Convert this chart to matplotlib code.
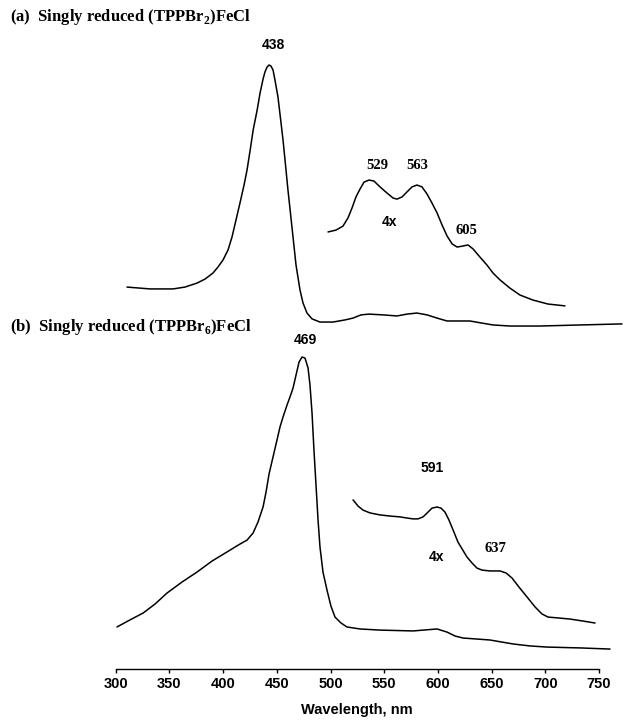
import matplotlib
matplotlib.use("Agg")
import matplotlib.pyplot as plt

# espectro (a): longitudes de onda (nm) y absorbancia relativa
wl_a = [310.5, 331.9, 353.4, 364.5, 375.7, 383.1, 390.6, 395.3, 399.9, 404.6, 408.3,
        412.0, 415.7, 419.5, 422.3, 425.2, 428.0, 431.7, 434.4, 437.2, 439.0, 440.9,
        442.7, 444.6, 446.5, 448.3, 451.1, 453.4, 455.8, 458.1, 460.4, 462.8, 465.1,
        467.9, 471.6, 474.4, 478.1, 482.8, 490.2, 502.3, 513.5, 521.0, 528.4, 535.9,
        548.9, 561.9, 571.2, 580.5, 589.9, 599.2, 608.5, 618.7, 629.9, 641.1, 651.3,
        667.1, 695.1, 732.3, 771.4]
abs_a = [0.162, 0.155, 0.155, 0.162, 0.177, 0.192, 0.215, 0.238, 0.264, 0.302, 0.351,
         0.415, 0.479, 0.547, 0.604, 0.679, 0.755, 0.830, 0.894, 0.947, 0.974, 0.992,
         1.000, 0.996, 0.981, 0.943, 0.879, 0.800, 0.717, 0.623, 0.528, 0.438, 0.351,
         0.245, 0.151, 0.102, 0.064, 0.042, 0.030, 0.030, 0.038, 0.045, 0.057, 0.060,
         0.057, 0.053, 0.060, 0.064, 0.057, 0.045, 0.034, 0.034, 0.034, 0.026, 0.019,
         0.015, 0.015, 0.019, 0.023]

# espectro (a) ampliado 4x
wl_a4 = [497.7, 505.1, 511.6, 516.3, 520.0, 523.7, 527.5, 531.2, 535.9, 540.5, 546.1,
         552.6, 558.2, 561.9, 566.6, 571.2, 575.9, 580.5, 585.2, 589.9, 594.5, 599.2,
         603.9, 608.5, 613.2, 617.9, 623.4, 628.0, 632.7, 639.2, 645.7, 651.3, 657.8,
         667.1, 676.4, 688.5, 702.5, 718.3]
abs_a4 = [0.370, 0.377, 0.392, 0.423, 0.460, 0.502, 0.532, 0.558, 0.566, 0.562, 0.540,
          0.517, 0.498, 0.494, 0.502, 0.521, 0.540, 0.547, 0.540, 0.513, 0.479, 0.442,
          0.396, 0.355, 0.325, 0.313, 0.317, 0.321, 0.306, 0.275, 0.245, 0.215, 0.189,
          0.158, 0.132, 0.113, 0.098, 0.091]

# espectro (b)
wl_b = [301.2, 313.3, 325.4, 336.6, 347.8, 361.8, 375.7, 389.7, 403.6, 415.7, 422.3,
        427.9, 432.5, 437.2, 440.0, 442.8, 446.5, 450.2, 453.0, 455.8, 459.5, 462.3,
        465.1, 467.9, 470.7, 473.5, 476.3, 479.1, 480.9, 482.8, 484.6, 486.5, 488.4,
        490.2, 493.0, 496.7, 500.4, 504.2, 509.8, 515.3, 527.5, 546.1, 576.8, 599.2,
        608.5, 616.0, 623.4, 648.5, 669.9, 685.8, 701.6, 732.3, 760.3]
abs_b = [0.046, 0.071, 0.095, 0.127, 0.166, 0.205, 0.240, 0.279, 0.311, 0.339, 0.353,
         0.378, 0.417, 0.470, 0.523, 0.587, 0.647, 0.707, 0.753, 0.788, 0.830, 0.859,
         0.890, 0.936, 0.982, 1.000, 0.996, 0.961, 0.901, 0.802, 0.671, 0.548, 0.424,
         0.329, 0.240, 0.177, 0.120, 0.081, 0.060, 0.046, 0.039, 0.035, 0.032, 0.039,
         0.028, 0.014, 0.007, 0.000, -0.014, -0.021, -0.025, -0.028, -0.032]

# espectro (b) ampliado 4x
wl_b4 = [521.0, 525.7, 530.3, 536.8, 546.1, 555.4, 564.7, 571.2, 576.8, 581.5, 586.2,
         590.8, 594.5, 599.2, 602.9, 606.6, 610.3, 614.1, 618.7, 622.5, 627.1, 631.8,
         636.4, 641.1, 648.5, 657.8, 663.4, 669.0, 675.5, 683.0, 690.4, 696.9, 702.5,
         711.8, 723.0, 735.1, 746.3]
abs_b4 = [0.495, 0.473, 0.459, 0.449, 0.442, 0.438, 0.435, 0.431, 0.428, 0.428, 0.435,
          0.452, 0.466, 0.470, 0.466, 0.452, 0.424, 0.389, 0.346, 0.322, 0.293, 0.272,
          0.254, 0.247, 0.244, 0.244, 0.237, 0.219, 0.187, 0.152, 0.117, 0.092, 0.081,
          0.078, 0.074, 0.067, 0.060]

ticks = [300, 350, 400, 450, 500, 550, 600, 650, 700, 750]

plt.rcParams["mathtext.fontset"] = "custom"
plt.rcParams["mathtext.rm"] = "Liberation Serif"
plt.rcParams["mathtext.bf"] = "Liberation Serif:bold"

W, H = 635, 726
fig = plt.figure(figsize=(W / 100, H / 100), dpi=100)

xlim = (300 - 115.7 / 1.074, 300 + (W - 115.7) / 1.074)

# panel superior: A=0 en y=330 px, A=1 en y=65 px
ax_a = fig.add_axes([0, 1 - 330 / H, 1, 265 / H])
# panel inferior: A=0 en y=640 px, A=1 en y=357 px, eje en y=669 px
ax_b = fig.add_axes([0, 1 - 669 / H, 1, 312 / H])

ax_a.set_xlim(*xlim)
ax_a.set_ylim(0, 1)
ax_b.set_xlim(*xlim)
ax_b.set_ylim(-29 / 283, 1)

for ax in (ax_a, ax_b):
    ax.patch.set_alpha(0)
    for s in ax.spines.values():
        s.set_visible(False)
    ax.set_yticks([])

ax_a.set_xticks([])

estilo = dict(color="black", lw=1.1, clip_on=False, solid_joinstyle="round", solid_capstyle="round")
ax_a.plot(wl_a, abs_a, **estilo)
ax_a.plot(wl_a4, abs_a4, **estilo)
ax_b.plot(wl_b, abs_b, **estilo)
ax_b.plot(wl_b4, abs_b4, **estilo)

sans = dict(family="Liberation Sans", fontweight="bold", fontsize=10, ha="center", va="center")
serif = dict(family="Liberation Serif", fontweight="bold", fontsize=10.5, ha="center", va="center")

ax_a.text(446.5, 1.075, "438", clip_on=False, **sans)
ax_a.text(543.3, 0.619, "529", **serif)
ax_a.text(580.5, 0.619, "563", **serif)
ax_a.text(554.5, 0.408, "4x", **sans)
ax_a.text(626.2, 0.377, "605", **serif)

ax_b.text(476.3, 1.060, "469", clip_on=False, **sans)
ax_b.text(594.5, 0.608, "591", **sans)
ax_b.text(653.2, 0.325, "637", **serif)
ax_b.text(598.3, 0.293, "4x", **sans)

ax_b.spines["bottom"].set_visible(True)
ax_b.spines["bottom"].set_bounds(300, 750)
ax_b.spines["bottom"].set_linewidth(1.0)
ax_b.set_xticks(ticks)
ax_b.set_xticklabels([str(t) for t in ticks])
ax_b.tick_params(axis="x", direction="out", length=3, width=1, pad=3)
for lab in ax_b.get_xticklabels():
    lab.set_family("Liberation Sans")
    lab.set_fontweight("bold")
    lab.set_fontsize(10.5)

ax_b.set_xlabel("Wavelength, nm", family="Liberation Sans", fontweight="bold", fontsize=10.5)
ax_b.xaxis.set_label_coords(357 / W, -(703 - 669) / 312)

fig.text(10 / W, 1 - 17 / H, r"(a)  Singly reduced (TPPBr$_\mathbf{2}$)FeCl",
         family="Liberation Serif", fontweight="bold", fontsize=12, va="center")
fig.text(10 / W, 1 - 327 / H, r"(b)  Singly reduced (TPPBr$_\mathbf{6}$)FeCl",
         family="Liberation Serif", fontweight="bold", fontsize=12, va="center")

fig.savefig("out.png", dpi=100)
